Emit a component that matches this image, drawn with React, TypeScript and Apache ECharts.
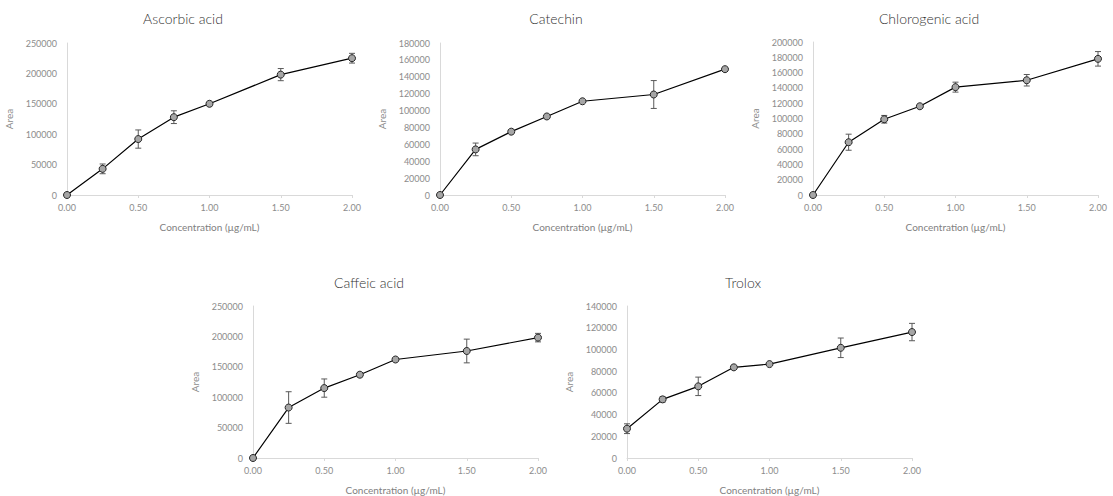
import React, { useEffect, useRef } from "react";
import * as echarts from "echarts";

const conc = [0, 0.25, 0.5, 0.75, 1, 1.5, 2];
const xTicks = ["0.00", "0.50", "1.00", "1.50", "2.00"];

const ascorbicArea = [0, 43000, 92000, 128000, 150000, 198000, 225000];
const ascorbicErr = [0, 8000, 15000, 10500, 3500, 10000, 8000];

const catechinArea = [0, 54000, 75000, 93000, 111000, 119000, 149000];
const catechinErr = [0, 7500, 2000, 1500, 1000, 16500, 2000];

const chlorogenicArea = [0, 69000, 99000, 116000, 141000, 150000, 178000];
const chlorogenicErr = [0, 10500, 5000, 2000, 6500, 7500, 9500];

const caffeicArea = [0, 83000, 115000, 137000, 162000, 176000, 198000];
const caffeicErr = [0, 26000, 15000, 3500, 3000, 19500, 7000];

const troloxArea = [27000, 54000, 66000, 83500, 86500, 101500, 116000];
const troloxErr = [4500, 2500, 8500, 1500, 1000, 9000, 8000];

const panelNames = ["Ascorbic acid", "Catechin", "Chlorogenic acid", "Caffeic acid", "Trolox"];
const panelValues = [ascorbicArea, catechinArea, chlorogenicArea, caffeicArea, troloxArea];
const panelErrors = [ascorbicErr, catechinErr, chlorogenicErr, caffeicErr, troloxErr];
const yMax = [250000, 180000, 200000, 250000, 140000];
const yStep = [50000, 20000, 20000, 50000, 20000];

// layout (pixels)
const grids = [
  { left: 67, top: 43, width: 285, height: 152 },
  { left: 440, top: 43, width: 285, height: 152 },
  { left: 813, top: 42, width: 285, height: 153 },
  { left: 253, top: 306, width: 285, height: 154 },
  { left: 627, top: 306, width: 285, height: 153 },
];
const titlePos = [
  [183, 18],
  [556, 18],
  [929, 18],
  [369, 282],
  [743, 282],
];

const FONT = "Lato, 'Open Sans', 'Noto Sans', sans-serif";
const LABEL = "#8c8c8c";
const AXIS = "#d9d9d9";

export default function App() {
  const ref = useRef<HTMLDivElement>(null);
  useEffect(() => {
    if (!ref.current) return;
    const chart = echarts.init(ref.current, undefined, { renderer: "svg" });

    const xAxis: any[] = [];
    const yAxis: any[] = [];
    const series: any[] = [];
    const graphic: any[] = [];

    panelNames.forEach((name, i) => {
      xAxis.push({
        type: "value",
        gridIndex: i,
        min: 0,
        max: 2,
        interval: 0.5,
        name: "Concentration (µg/mL)",
        nameLocation: "middle",
        nameGap: 27,
        nameTextStyle: { color: "#7f7f7f", fontSize: 10, fontFamily: FONT, fontWeight: 400 },
        axisLine: { show: true, lineStyle: { color: AXIS, width: 1 } },
        axisTick: { show: true, length: 3, lineStyle: { color: AXIS } },
        axisLabel: {
          color: LABEL,
          fontSize: 9,
          fontFamily: FONT,
          fontWeight: 400,
          margin: 8,
          formatter: (v: number) => xTicks[Math.round(v / 0.5)] ?? v.toFixed(2),
        },
        splitLine: { show: false },
      });
      yAxis.push({
        type: "value",
        gridIndex: i,
        min: 0,
        max: yMax[i],
        interval: yStep[i],
        name: "Area",
        nameLocation: "middle",
        nameGap: 53,
        nameTextStyle: { color: "#8c8c8c", fontSize: 10, fontFamily: FONT, fontWeight: 400 },
        axisLine: { show: true, lineStyle: { color: AXIS, width: 1 } },
        axisTick: { show: false },
        axisLabel: {
          color: LABEL,
          fontSize: 9,
          fontFamily: FONT,
          fontWeight: 400,
          margin: 10,
          formatter: (v: number) => String(Math.round(v)),
        },
        splitLine: { show: false },
      });

      const vals = panelValues[i];
      const errs = panelErrors[i];
      series.push({
        type: "custom",
        xAxisIndex: i,
        yAxisIndex: i,
        z: 1,
        silent: true,
        encode: { x: 0, y: [1, 2] },
        data: conc.map((c, k) => [c, vals[k] - errs[k], vals[k] + errs[k]]),
        renderItem: (params: any, api: any) => {
          const x = api.value(0);
          const lo = api.value(1);
          const hi = api.value(2);
          if (hi - lo <= 0) return { type: "group", children: [] };
          const pLo = api.coord([x, lo]);
          const pHi = api.coord([x, hi]);
          const w = 3;
          const style = { stroke: "#595959", lineWidth: 1, fill: "none" };
          return {
            type: "group",
            children: [
              { type: "line", shape: { x1: pLo[0], y1: pLo[1], x2: pHi[0], y2: pHi[1] }, style },
              { type: "line", shape: { x1: pLo[0] - w, y1: pLo[1], x2: pLo[0] + w, y2: pLo[1] }, style },
              { type: "line", shape: { x1: pHi[0] - w, y1: pHi[1], x2: pHi[0] + w, y2: pHi[1] }, style },
            ],
          };
        },
      });
      series.push({
        type: "line",
        name,
        xAxisIndex: i,
        yAxisIndex: i,
        z: 3,
        data: conc.map((c, k) => [c, vals[k]]),
        symbol: "circle",
        symbolSize: 7,
        lineStyle: { color: "#000000", width: 1.2 },
        itemStyle: { color: "#a6a6a6", borderColor: "#262626", borderWidth: 1 },
      });

      graphic.push({
        type: "text",
        x: titlePos[i][0],
        y: titlePos[i][1],
        style: {
          text: name,
          fill: "#333333",
          font: `normal 300 14px ${FONT}`,
          textAlign: "center",
          textVerticalAlign: "middle",
        },
      });
    });

    chart.setOption({
      animation: false,
      backgroundColor: "#ffffff",
      grid: grids.map((g) => ({ ...g, containLabel: false })),
      xAxis,
      yAxis,
      series,
      graphic,
    });
    return () => chart.dispose();
  }, []);

  return (
    <div
      ref={ref}
      style={{ position: "fixed", left: 0, top: 0, width: 1113, height: 496, background: "#fff" }}
    />
  );
}
